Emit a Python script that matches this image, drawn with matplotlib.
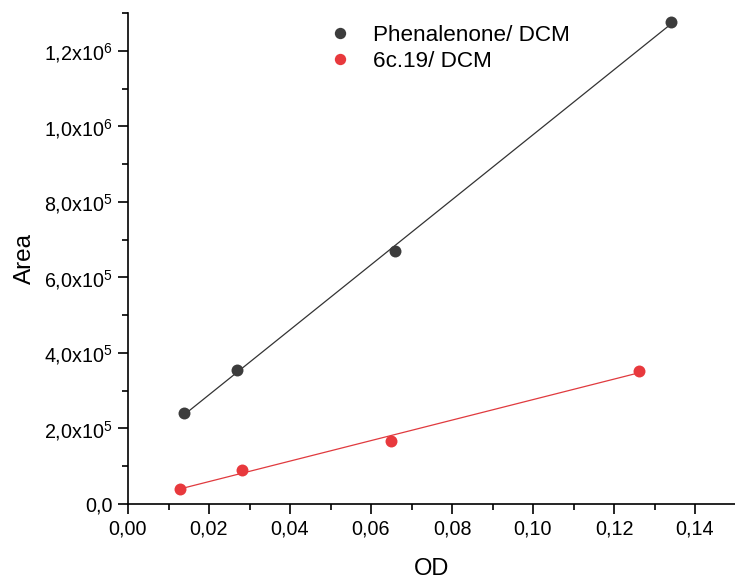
import numpy as np
import matplotlib
matplotlib.use("Agg")
import matplotlib.pyplot as plt
from matplotlib.ticker import FixedLocator, MultipleLocator, FuncFormatter

plt.rcParams['font.family'] = ['Liberation Sans', 'DejaVu Sans']
plt.rcParams['mathtext.default'] = 'regular'

# Data
od_phen = [0.0139, 0.0270, 0.0660, 0.1341]
area_phen = [2.40e5, 3.55e5, 6.70e5, 1.277e6]
od_6c = [0.0129, 0.0281, 0.0650, 0.1261]
area_6c = [4.0e4, 9.1e4, 1.66e5, 3.53e5]
labels = ["Phenalenone/ DCM", "6c.19/ DCM"]
x_ticks = [0.00, 0.02, 0.04, 0.06, 0.08, 0.10, 0.12, 0.14]
y_ticks = [0, 2e5, 4e5, 6e5, 8e5, 1.0e6, 1.2e6]

black = "#3c3c3c"
red = "#e8393d"

fig = plt.figure(figsize=(7.35, 5.79), dpi=100)
ax = fig.add_axes([128/735, 75/579, (735.5-128)/735, (504-13)/579])

for xs, ys, c, lab, lc in [(od_phen, area_phen, black, labels[0], "#333333"),
                           (od_6c, area_6c, red, labels[1], "#e03a3e")]:
    xs = np.asarray(xs); ys = np.asarray(ys)
    k, b = np.polyfit(xs, ys, 1)
    xx = np.array([xs.min(), xs.max()])
    ax.plot(xx, k*xx + b, color=lc, lw=0.9, zorder=2)
    ax.plot(xs, ys, 'o', color=c, ms=8.6, mec='none', label=lab, zorder=3)

ax.set_xlim(0, 0.15)
ax.set_ylim(0, 1.3e6)
ax.xaxis.set_major_locator(FixedLocator(x_ticks))
ax.xaxis.set_minor_locator(MultipleLocator(0.01))
ax.yaxis.set_major_locator(FixedLocator(y_ticks))
ax.yaxis.set_minor_locator(MultipleLocator(1e5))

ax.xaxis.set_major_formatter(FuncFormatter(lambda v, p: f"{v:.2f}".replace('.', ',')))

def yfmt(v, p):
    if v == 0:
        return "0,0"
    e = int(np.floor(np.log10(v)))
    m = v / 10**e
    return f"{m:.1f}".replace('.', ',') + r"x10$^{" + str(e) + "}$"

ax.yaxis.set_major_formatter(FuncFormatter(yfmt))

for s in ['top', 'right']:
    ax.spines[s].set_visible(False)
for s in ['left', 'bottom']:
    ax.spines[s].set_linewidth(1.2)
ax.tick_params(which='major', direction='out', length=7, width=1.2, labelsize=14.2, pad=4)
ax.tick_params(which='minor', direction='out', length=4, width=1.2)

ax.set_xlabel("OD", fontsize=17, labelpad=14)
ax.set_ylabel("Area", fontsize=17.5, labelpad=6)

leg = ax.legend(loc='upper left', bbox_to_anchor=(0.288, 1.017), frameon=False,
                fontsize=16.2, handletextpad=0.7, markerscale=0.95,
                labelspacing=0.22, handlelength=1.5)

fig.savefig("out.png", dpi=100)
